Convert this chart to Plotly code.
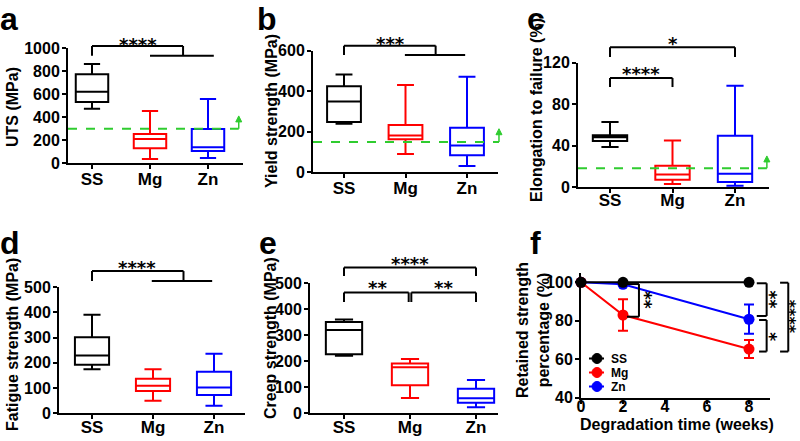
import plotly.graph_objects as go

W, H = 800, 441

categories = ["SS", "Mg", "Zn"]

# a: ultimate tensile strength (MPa)
uts_lo = [475, 38, 46]
uts_q1 = [533, 130, 107]
uts_med = [623, 212, 139]
uts_q3 = [774, 255, 299]
uts_hi = [864, 455, 559]
uts_limit = 300
uts_ticks = [0, 200, 400, 600, 800, 1000]

# b: yield strength (MPa)
ys_lo = [240, 90, 31]
ys_q1 = [248, 163, 84]
ys_med = [349, 181, 132]
ys_q3 = [424, 234, 220]
ys_hi = [483, 431, 472]
ys_limit = 150
ys_ticks = [0, 200, 400, 600]

# c: elongation to failure (%)
el_lo = [38.6, 3, 1.3]
el_q1 = [44.4, 7, 4.8]
el_med = [48, 12, 12.9]
el_q3 = [50, 20.5, 49.5]
el_hi = [62.7, 45, 97.8]
el_limit = 18
el_ticks = [0, 40, 80, 120]

# d: fatigue strength (MPa)
fs_lo = [174, 50, 30]
fs_q1 = [192, 88, 72]
fs_med = [229, 109, 102]
fs_q3 = [301, 137, 164]
fs_hi = [390, 174, 236]
fs_ticks = [0, 100, 200, 300, 400, 500]

# e: creep strength (MPa)
cs_lo = [221, 59, 23]
cs_q1 = [227, 108, 41]
cs_med = [320, 177, 58]
cs_q3 = [351, 192, 94]
cs_hi = [361, 209, 128]
cs_ticks = [0, 100, 200, 300, 400, 500]

# f: retained strength percentage (%)
weeks = [0, 2, 8]
ret_ss = [100, 100, 100]
ret_mg = [100, 83, 65.3]
ret_mg_err = [0, 8.2, 4.7]
ret_zn = [100, 99, 80.8]
ret_zn_err = [0, 0.8, 7.6]
week_ticks = [0, 2, 4, 6, 8]
ret_ticks = [40, 60, 80, 100]

COLORS = ["#000000", "#ff0000", "#0000ff"]
GREEN = "#2fcc2f"
FONT = "Liberation Sans, Arial, sans-serif"
STAR_FONT = "DejaVu Sans, sans-serif"

# panel geometry (pixels): x axis span, y axis span (bottom, top), category centre & spacing
geo = {
    1: dict(xpx=(68, 243), ypx=(163.3, 48.3), cat=(92, 58), yr=(0, 1000), xso=-5),
    2: dict(xpx=(313, 498), ypx=(172.3, 50.7), cat=(344, 61.5), yr=(0, 600), xso=-5),
    3: dict(xpx=(578, 769), ypx=(187, 62.7), cat=(610, 62.5), yr=(0, 120), xso=-7),
    4: dict(xpx=(59, 245), ypx=(413.3, 287), cat=(92, 61), yr=(0, 500), xso=-7),
    5: dict(xpx=(310, 498), ypx=(413.3, 283.3), cat=(344, 66), yr=(0, 500), xso=-7),
    6: dict(xpx=(581, 770), ypx=(397.7, 272.7), cat=None, yr=(40, 105), xso=-11),
}
for n, g in geo.items():
    if g["cat"] is not None:
        c0, st = g["cat"]
        g["xr"] = ((g["xpx"][0] - c0) / st, (g["xpx"][1] - c0) / st)
    else:
        g["xr"] = (0, 9)

fig = go.Figure()


def sfx(n):
    return "" if n == 1 else str(n)


def add_boxes(n, lo, q1, med, q3, hi, width=0.55):
    for i in range(len(categories)):
        fig.add_trace(go.Box(
            x=[i], lowerfence=[lo[i]], q1=[q1[i]], median=[med[i]], q3=[q3[i]],
            upperfence=[hi[i]], xaxis="x" + sfx(n), yaxis="y" + sfx(n),
            line=dict(color=COLORS[i], width=2), fillcolor="rgba(0,0,0,0)",
            width=width, whiskerwidth=0.5, boxpoints=False, hoverinfo="skip",
            showlegend=False))


add_boxes(1, uts_lo, uts_q1, uts_med, uts_q3, uts_hi, 0.56)
add_boxes(2, ys_lo, ys_q1, ys_med, ys_q3, ys_hi, 0.55)
add_boxes(3, el_lo, el_q1, el_med, el_q3, el_hi, 0.55)
add_boxes(4, fs_lo, fs_q1, fs_med, fs_q3, fs_hi, 0.56)
add_boxes(5, cs_lo, cs_q1, cs_med, cs_q3, cs_hi, 0.55)

# f: lines (drawn Zn, Mg, SS so black sits on top)
fig.add_trace(go.Scatter(x=weeks, y=ret_zn, mode="lines+markers", xaxis="x6", yaxis="y6",
                         line=dict(color=COLORS[2], width=2), marker=dict(size=11, color=COLORS[2]),
                         error_y=dict(type="data", array=ret_zn_err, color=COLORS[2], thickness=2, width=5),
                         cliponaxis=False, showlegend=False, hoverinfo="skip"))
fig.add_trace(go.Scatter(x=weeks, y=ret_mg, mode="lines+markers", xaxis="x6", yaxis="y6",
                         line=dict(color=COLORS[1], width=2), marker=dict(size=11, color=COLORS[1]),
                         error_y=dict(type="data", array=ret_mg_err, color=COLORS[1], thickness=2, width=5),
                         cliponaxis=False, showlegend=False, hoverinfo="skip"))
fig.add_trace(go.Scatter(x=weeks, y=ret_ss, mode="lines+markers", xaxis="x6", yaxis="y6",
                         line=dict(color=COLORS[0], width=2), marker=dict(size=11, color=COLORS[0]),
                         cliponaxis=False, showlegend=False, hoverinfo="skip"))

axis_common = dict(showline=True, linewidth=2, linecolor="black", ticks="outside",
                   ticklen=4, tickwidth=2, tickcolor="black", showgrid=False, zeroline=False,
                   fixedrange=True, automargin=False,
                   tickfont=dict(family=FONT, size=16, color="black", weight="bold"))

yticks = {1: uts_ticks, 2: ys_ticks, 3: el_ticks, 4: fs_ticks, 5: cs_ticks, 6: ret_ticks}
layout = {}
for n, g in geo.items():
    xd = [g["xpx"][0] / W, g["xpx"][1] / W]
    yd = [1 - g["ypx"][0] / H, 1 - g["ypx"][1] / H]
    if n < 6:
        xa = dict(axis_common, domain=xd, range=list(g["xr"]), tickvals=[0, 1, 2],
                  ticktext=categories, anchor="y" + sfx(n), ticklabelstandoff=g["xso"],
                  tickfont=dict(family=FONT, size=17, color="black", weight="bold"))
    else:
        xa = dict(axis_common, domain=xd, range=list(g["xr"]), tickvals=week_ticks,
                  anchor="y6", ticklabelstandoff=g["xso"])
    ya = dict(axis_common, domain=yd, range=list(g["yr"]), tickvals=yticks[n],
              anchor="x" + sfx(n), ticklabelstandoff=-1)
    layout["xaxis" + sfx(n)] = xa
    layout["yaxis" + sfx(n)] = ya
fig.update_layout(**layout)

shapes = []
annotations = []


def fx(n, x):
    r0, r1 = geo[n]["xr"]
    return (x - r0) / (r1 - r0)


def fy(n, y):
    r0, r1 = geo[n]["yr"]
    return (y - r0) / (r1 - r0)


def to_paper(n, x, y):
    g = geo[n]
    px = g["xpx"][0] + fx(n, x) * (g["xpx"][1] - g["xpx"][0])
    py = g["ypx"][0] + fy(n, y) * (g["ypx"][1] - g["ypx"][0])
    return px / W, 1 - py / H


def seg(n, x0, y0, x1, y1, color="black", width=2, dash=None):
    line = dict(color=color, width=width)
    if dash:
        line["dash"] = dash
    shapes.append(dict(type="line", xref="x%s domain" % sfx(n), yref="y%s domain" % sfx(n),
                       x0=fx(n, x0), x1=fx(n, x1), y0=fy(n, y0), y1=fy(n, y1), line=line,
                       layer="above"))


def bracket(n, x0, x1, ytop, yl0, yl1):
    seg(n, x0, yl0, x0, ytop)
    seg(n, x0, ytop, x1, ytop)
    seg(n, x1, ytop, x1, yl1)


def stars(n, x, y, txt, size=18, angle=0, xs=0, ys=-3):
    px, py = to_paper(n, x, y)
    annotations.append(dict(xref="paper", yref="paper", x=px, y=py, text=txt,
                            xanchor="center", yanchor="middle", borderpad=0,
                            showarrow=False, textangle=angle, xshift=xs, yshift=ys,
                            font=dict(family=STAR_FONT, size=size, color="black", weight="bold")))


def limit(n, y, xarrow, ytip):
    seg(n, geo[n]["xr"][0], y, xarrow, y, color=GREEN, width=2, dash="dash")
    px0, py0 = to_paper(n, xarrow, y)
    px1, py1 = to_paper(n, xarrow, ytip)
    shapes.append(dict(type="line", xref="paper", yref="paper", x0=px0, x1=px0, y0=py0,
                       y1=py1 - 4 / H, line=dict(color=GREEN, width=1.5)))
    hw, hh = 3 / W, 6 / H
    path = "M %.5f,%.5f L %.5f,%.5f L %.5f,%.5f Z" % (px1 - hw, py1 - hh, px1 + hw, py1 - hh, px1, py1)
    shapes.append(dict(type="path", xref="paper", yref="paper", path=path,
                       fillcolor=GREEN, line=dict(color=GREEN, width=1)))


# a
bracket(1, 0, 1.57, 1020, 935, 935)
seg(1, 1.0, 935, 2.1, 935)
stars(1, 0.8, 1062, "****")
limit(1, uts_limit, 2.53, 412)
# b
bracket(2, 0, 1.49, 625, 579, 579)
seg(2, 0.99, 579, 1.97, 579)
stars(2, 0.75, 648, "***")
limit(2, ys_limit, 2.52, 215)
# c
bracket(3, 0, 2, 135, 125.4, 125.4)
stars(3, 1.0, 141, "*")
bracket(3, 0, 1, 105.2, 96.5, 96.5)
stars(3, 0.5, 112, "****")
limit(3, el_limit, 2.51, 30)
# d
bracket(4, 0, 1.5, 563, 524, 524)
seg(4, 0.98, 524, 1.97, 524)
stars(4, 0.73, 590, "****")
# e
bracket(5, 0, 2, 561, 528, 528)
stars(5, 1.0, 586, "****")
bracket(5, 0, 0.98, 465, 428, 428)
bracket(5, 1.02, 2, 465, 428, 428)
stars(5, 0.5, 494, "**")
stars(5, 1.5, 494, "**")
# f
seg(6, 2.19, 99.1, 2.76, 99.1)
seg(6, 2.76, 99.1, 2.76, 82.1)
seg(6, 2.19, 82.1, 2.76, 82.1)
stars(6, 3.02, 90.6, "**", size=17, angle=90, ys=0)
seg(6, 8.37, 99.5, 8.84, 99.5)
seg(6, 8.84, 99.5, 8.84, 82.5)
seg(6, 8.37, 82.5, 8.84, 82.5)
stars(6, 9.0, 91, "**", size=17, angle=90, ys=0)
seg(6, 8.48, 80.4, 8.84, 80.4)
seg(6, 8.84, 80.4, 8.84, 64)
seg(6, 8.48, 64, 8.84, 64)
stars(6, 9.0, 72, "*", size=17, angle=90, ys=0)
seg(6, 9.48, 99.8, 9.87, 99.8)
seg(6, 9.87, 99.8, 9.87, 64)
seg(6, 9.48, 64, 9.87, 64)
stars(6, 9.97, 81.9, "****", size=16, angle=90, ys=0)


def ptext(xpx, ypx, txt, size=16, angle=0, xanchor="center", yanchor="middle"):
    annotations.append(dict(xref="paper", yref="paper", x=xpx / W, y=1 - ypx / H, text=txt,
                            showarrow=False, textangle=angle, xanchor=xanchor, yanchor=yanchor,
                            borderpad=0,
                            font=dict(family=FONT, size=size, color="black", weight="bold")))


# panel letters
ptext(-1, 0, "a", 32, xanchor="left", yanchor="top")
ptext(256, 0, "b", 32, xanchor="left", yanchor="top")
ptext(526, 0, "c", 32, xanchor="left", yanchor="top")
ptext(-1, 224, "d", 32, xanchor="left", yanchor="top")
ptext(258, 224, "e", 32, xanchor="left", yanchor="top")
ptext(529, 224, "f", 32, xanchor="left", yanchor="top")

# axis titles
ptext(12, 107, "UTS (MPa)", angle=-90)
ptext(271, 111, "Yield strength (MPa)", angle=-90)
ptext(536, 110, "Elongation to failure (%)", angle=-90)
ptext(12, 345, "Fatigue strength (MPa)", angle=-90)
ptext(270, 338, "Creep strength (MPa)", angle=-90)
ptext(533, 330, "Retained strength<br>percentage (%)", angle=-90)
ptext(677, 424, "Degradation time (weeks)")

# legend for f (manual, compact)
leg_names = ["SS", "Mg", "Zn"]
leg_y = [358.5, 372.5, 386.5]
for name, col, yy in zip(leg_names, COLORS, leg_y):
    shapes.append(dict(type="line", xref="paper", yref="paper", x0=589 / W, x1=604 / W,
                       y0=1 - yy / H, y1=1 - yy / H, line=dict(color=col, width=2)))
    shapes.append(dict(type="circle", xref="paper", yref="paper", x0=592 / W, x1=602 / W,
                       y0=1 - (yy + 5) / H, y1=1 - (yy - 5) / H, fillcolor=col,
                       line=dict(color=col, width=1)))
    ptext(610, yy, name, 12, xanchor="left")

fig.update_layout(width=W, height=H, margin=dict(l=0, r=0, t=0, b=0, autoexpand=False),
                  paper_bgcolor="white", plot_bgcolor="white", showlegend=False,
                  shapes=shapes, annotations=annotations)

fig.write_html("out.html", config={"displayModeBar": False},
               post_script="document.body.style.margin='0';document.body.style.padding='0';"
                           "document.body.style.overflow='hidden';")
